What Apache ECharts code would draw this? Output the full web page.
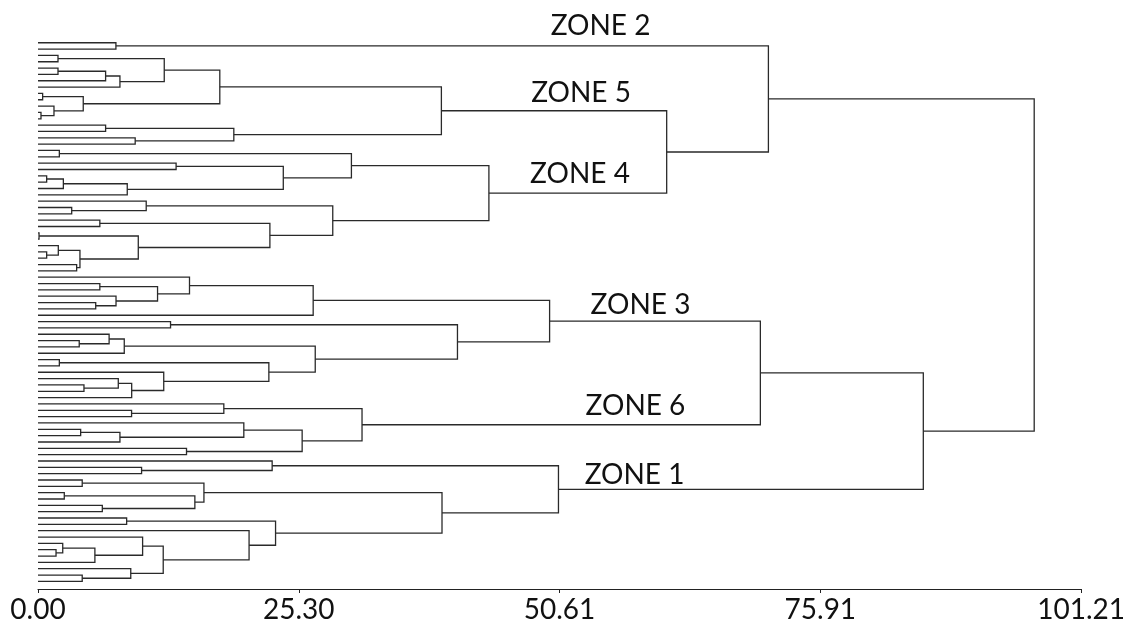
<!DOCTYPE html>
<html>
<head>
<meta charset="utf-8">
<script src="https://cdn.jsdelivr.net/npm/echarts@6/dist/echarts.min.js"></script>
<style>
html,body{margin:0;padding:0;background:#fff;}
#chart{width:1128px;height:624px;}
</style>
</head>
<body>
<div id="chart"></div>
<script>
// ---- DATA ----
// A node is [mergeHeight, childA, childB]; L marks a single leaf.
const L = 0;
const zone2 = [7.56, L, L];
const zone5 = [39.14,
  [17.64, [12.25, [1.94, L, L], [7.95, [6.56, [1.94, L, L], L], L]], [4.39, [0.45, L, L], [1.55, L, [0.29, L, L]]]],
  [19.0, [6.56, L, L], [9.43, L, L]]];
const zone4 = [43.75,
  [30.41, [2.07, L, L], [23.8, [13.4, L, L], [8.66, [2.46, [0.84, L, L], L], L]]],
  [28.6, [10.5, L, [3.27, L, L]], [22.5, [6.0, L, L], [9.73, [0.1, L, L], [4.07, [1.97, L, [0.84, L, L]], [3.75, L, L]]]]]];
const zone3 = [49.64,
  [26.7, [14.7, L, [11.6, [6.0, L, L], [7.57, L, [5.6, L, L]]]], L],
  [40.7, [12.86, L, L], [26.9, [8.37, [6.9, L, [4.0, L, L]], L], [22.4, [2.07, L, L], [12.2, L, [9.09, [7.79, L, [4.46, L, L]], L]]]]]];
const zone6 = [31.44, [18.03, L, [9.08, L, L]], [25.63, [19.97, L, [7.95, [4.14, L, L], L]], [14.41, L, L]]];
const zone1 = [50.5, [22.72, L, [10.05, L, L]],
  [39.2, [16.1, [4.29, L, L], [15.22, [2.55, L, L], [6.24, L, L]]],
         [23.05, [8.6, L, L], [20.48, L, [12.15, [10.15, L, [5.52, [2.4, L, [1.75, L, L]], L]], [9.0, L, [4.29, L, L]]]]]]];
// upper-level merge heights
const h54 = 61.0, h254 = 70.87, h36 = 70.09, h361 = 85.9, hRoot = 96.66;
const tree = [hRoot, [h254, zone2, [h54, zone5, zone4]], [h361, [h36, zone3, zone6], zone1]];

const zoneNames = ['ZONE 2', 'ZONE 5', 'ZONE 4', 'ZONE 3', 'ZONE 6', 'ZONE 1'];
const tickLabels = ['0.00', '25.30', '50.61', '75.91', '101.21'];
const axisMax = 101.21;

// ---- layout (label anchor positions, data units) ----
const zoneLabelPos = [[54.58, -2.71], [52.69, 7.85], [52.59, 20.63], [58.46, 41.45], [57.97, 57.30], [57.88, 68.19]];

// ---- build elbow polylines from tree ----
let leafIdx = 0;
const links = [];
function walk(node) {
  if (!Array.isArray(node)) { return { y: leafIdx++, h: 0 }; }
  const a = walk(node[1]);
  const b = walk(node[2]);
  const h = node[0];
  links.push({ coords: [[a.h, a.y], [h, a.y], [h, b.y], [b.h, b.y]] });
  return { y: (a.y + b.y) / 2, h: h };
}
walk(tree);
const nLeaves = leafIdx;

const chart = echarts.init(document.getElementById('chart'), null, { renderer: 'canvas' });
chart.setOption({
  animation: false,
  backgroundColor: '#fff',
  grid: { left: 38, right: 46, top: 36.4, bottom: 34.7 },
  xAxis: {
    type: 'value', min: 0, max: axisMax, interval: axisMax / 4, position: 'bottom',
    splitLine: { show: false },
    axisLine: { show: true, onZero: false, lineStyle: { color: '#222', width: 1.2 } },
    axisTick: { show: true, length: 4, lineStyle: { color: '#222', width: 1 } },
    axisLabel: {
      fontFamily: 'Lato', fontSize: 28, color: '#111', margin: 7,
      formatter: function (v, i) { return tickLabels[i] !== undefined ? tickLabels[i] : ''; }
    }
  },
  yAxis: { type: 'value', inverse: true, min: -1, max: nLeaves + 0.2, show: false },
  series: [
    {
      type: 'lines', coordinateSystem: 'cartesian2d', polyline: true,
      silent: true,
      lineStyle: { color: '#2a2a2a', width: 1.3, opacity: 1 },
      data: links
    },
    {
      type: 'custom', coordinateSystem: 'cartesian2d', silent: true,
      data: zoneNames.map(function (n, i) { return [zoneLabelPos[i][0], zoneLabelPos[i][1], n]; }),
      renderItem: function (params, api) {
        const p = api.coord([api.value(0), api.value(1)]);
        return {
          type: 'text',
          style: {
            text: zoneNames[params.dataIndex], x: p[0], y: p[1],
            align: 'center', verticalAlign: 'middle',
            font: '28px Lato', fill: '#111'
          }
        };
      }
    }
  ]
});
</script>
</body>
</html>
